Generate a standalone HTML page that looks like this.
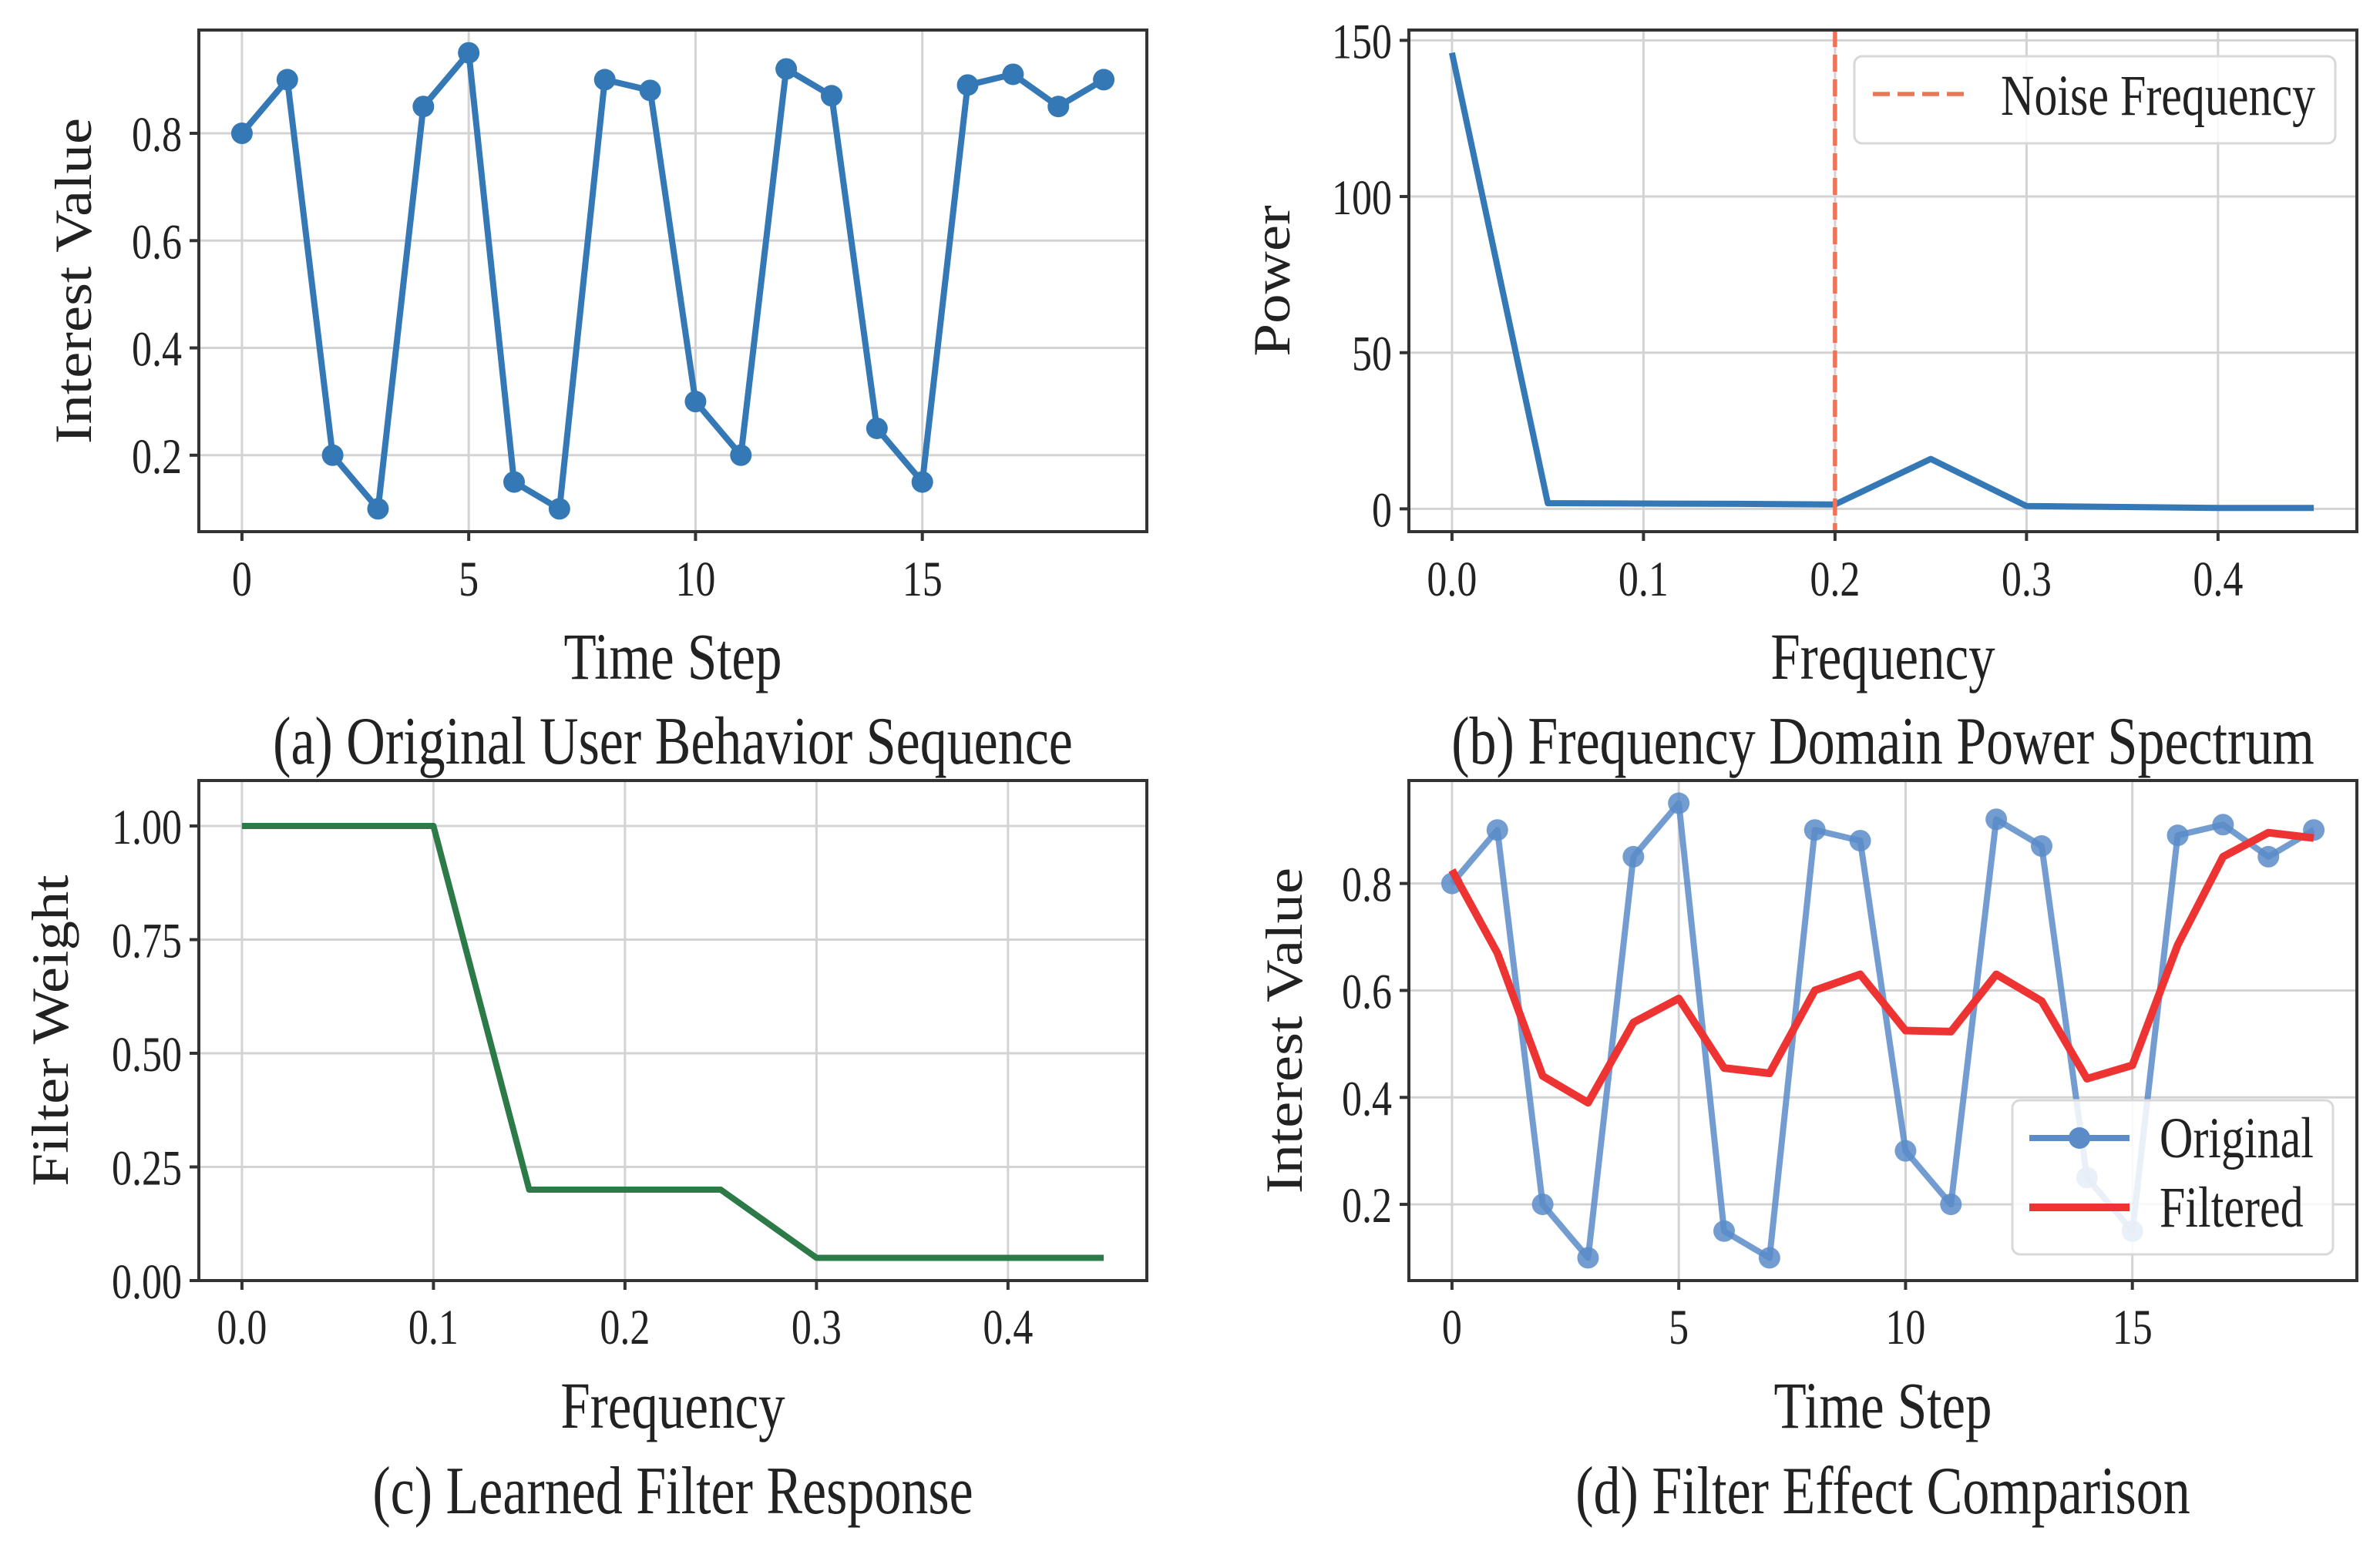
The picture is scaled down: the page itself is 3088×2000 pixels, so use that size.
<!DOCTYPE html>
<html><head><meta charset="utf-8"><style>
html,body{margin:0;padding:0;background:#fff;}
svg{display:block;}
text{font-family:"Liberation Serif","DejaVu Serif",serif;fill:#222;}
</style></head><body>
<svg id="fig" width="3088" height="2000" viewBox="0 0 3088 2000" xmlns="http://www.w3.org/2000/svg"></svg>
<script>
const timeSteps = [0,1,2,3,4,5,6,7,8,9,10,11,12,13,14,15,16,17,18,19];
const originalValues = [0.8,0.9,0.2,0.1,0.85,0.95,0.15,0.1,0.9,0.88,0.3,0.2,0.92,0.87,0.25,0.15,0.89,0.91,0.85,0.9];
const filteredValues = [0.825,0.67,0.44,0.39,0.54,0.585,0.455,0.445,0.60,0.63,0.525,0.523,0.63,0.58,0.435,0.46,0.685,0.85,0.895,0.885];
const frequencies = [0,0.05,0.1,0.15,0.2,0.25,0.3,0.35,0.4,0.45];
const powerValues = [146,1.8,1.7,1.6,1.4,16,0.9,0.6,0.3,0.3];
const filterWeights = [1,1,1,0.2,0.2,0.2,0.05,0.05,0.05,0.05];
const noiseFrequency = 0.2;
const timeTicks = [0,5,10,15];
const interestTicks = [0.2,0.4,0.6,0.8];
const freqTicks = [0,0.1,0.2,0.3,0.4];
const powerTicks = [0,50,100,150];
const weightTicks = [0,0.25,0.5,0.75,1.0];

const NS='http://www.w3.org/2000/svg';
const svg=document.getElementById('fig');
const SY=1.25;
function mk(tag,attrs,parent){const e=document.createElementNS(NS,tag);for(const k in attrs)e.setAttribute(k,attrs[k]);(parent||svg).appendChild(e);return e;}
function txt(g,x,y,str,size,anchor,name){
  const t=mk('text',{x:0,y:0,'text-anchor':anchor,'font-size':size,transform:`translate(${x},${y}) scale(1,${SY})`},g);
  t.textContent=str;
  
  
  return t;
}

function panel(o){
  const g=mk('g',{});
  
  
  const [L,T,R,B]=o.box;
  const sx=v=>L+(v-o.xlim[0])/(o.xlim[1]-o.xlim[0])*(R-L);
  const sy=v=>B-(v-o.ylim[0])/(o.ylim[1]-o.ylim[0])*(B-T);
  o.xticks.forEach(t=>{
    const l=mk('line',{x1:sx(t),x2:sx(t),y1:T,y2:B,stroke:'#d3d3d3','stroke-width':3},g);
    
    const tk=mk('line',{x1:sx(t),x2:sx(t),y1:B,y2:B+12,stroke:'#333','stroke-width':4},g);
    
    txt(g,sx(t),o.tickY,o.xfmt(t),52,'middle','x-tick-label');
  });
  o.yticks.forEach(t=>{
    const l=mk('line',{x1:L,x2:R,y1:sy(t),y2:sy(t),stroke:'#d3d3d3','stroke-width':3},g);
    
    const tk=mk('line',{x1:L-12,x2:L,y1:sy(t),y2:sy(t),stroke:'#333','stroke-width':4},g);
    
    txt(g,L-22,sy(t)+23,o.yfmt(t),52,'end','y-tick-label');
  });
  o.draw(g,sx,sy);
  const fr=mk('rect',{x:L,y:T,width:R-L,height:B-T,fill:'none',stroke:'#333','stroke-width':4},g);
  
  txt(g,(L+R)/2,o.xlabelY,o.xlabel,69,'middle','x-axis-title');
  const yl=mk('text',{x:0,y:0,'text-anchor':'middle','dominant-baseline':'central','font-size':68,transform:`translate(${o.ylabelX},${(T+B)/2}) rotate(-90) scale(1.13,1)`},g);
  yl.textContent=o.ylabel;
  txt(g,(L+R)/2,o.titleY,o.title,70,'middle','panel-caption');
}
function path(g,xs,ys,sx,sy,attrs,name){
  const d=xs.map((x,i)=>(i?'L':'M')+sx(x).toFixed(1)+' '+sy(ys[i]).toFixed(1)).join(' ');
  const p=mk('path',Object.assign({d:d,fill:'none','stroke-linejoin':'round'},attrs),g);
  
  return p;
}
function dots(g,xs,ys,sx,sy,attrs,name){
  xs.forEach((x,i)=>{const c=mk('circle',Object.assign({cx:sx(x),cy:sy(ys[i]),r:14},attrs),g);
    });
}
const f1=v=>v.toFixed(1), f0=v=>String(v), f2=v=>v.toFixed(2);

panel({name:'panel-a-original-sequence',box:[258,39,1488,690],xlim:[-0.95,19.95],ylim:[0.0575,0.9925],
  xticks:timeTicks,yticks:interestTicks,xfmt:f0,yfmt:f1,tickY:773,xlabelY:881,titleY:991,ylabelX:95,
  xlabel:'Time Step',ylabel:'Interest Value',title:'(a) Original User Behavior Sequence',
  draw:(g,sx,sy)=>{path(g,timeSteps,originalValues,sx,sy,{stroke:'#3478b5','stroke-width':8},'original-line');
    dots(g,timeSteps,originalValues,sx,sy,{fill:'#3478b5'},'original-point');}});

panel({name:'panel-b-power-spectrum',box:[1828,39,3058,690],xlim:[-0.0225,0.4725],ylim:[-7.3,153.3],
  xticks:freqTicks,yticks:powerTicks,xfmt:f1,yfmt:f0,tickY:773,xlabelY:881,titleY:991,ylabelX:1650,
  xlabel:'Frequency',ylabel:'Power',title:'(b) Frequency Domain Power Spectrum',
  draw:(g,sx,sy)=>{
    path(g,frequencies,powerValues,sx,sy,{stroke:'#3478b5','stroke-width':8},'power-line');
    const nl=mk('line',{x1:sx(noiseFrequency),x2:sx(noiseFrequency),y1:39,y2:690,stroke:'#f07357','stroke-width':5.5,'stroke-dasharray':'22 10'},g);
    
    const lg=mk('g',{},g);
    mk('rect',{x:2406,y:73,width:624,height:113,rx:10,fill:'#fff','fill-opacity':0.85,stroke:'#d8d8d8','stroke-width':3},lg);
    const s=mk('line',{x1:2430,x2:2554,y1:122,y2:122,stroke:'#f07357','stroke-width':5.5,'stroke-dasharray':'22 10'},lg);
    
    txt(lg,2596,149,'Noise Frequency',60,'start','legend-label');
  }});

panel({name:'panel-c-filter-response',box:[258,1013,1488,1662],xlim:[-0.0225,0.4725],ylim:[0,1.1],
  xticks:freqTicks,yticks:weightTicks,xfmt:f1,yfmt:f2,tickY:1744,xlabelY:1853,titleY:1964,ylabelX:65,
  xlabel:'Frequency',ylabel:'Filter Weight',title:'(c) Learned Filter Response',
  draw:(g,sx,sy)=>{path(g,frequencies,filterWeights,sx,sy,{stroke:'#2b7a48','stroke-width':8},'filter-line');}});

panel({name:'panel-d-filter-comparison',box:[1828,1013,3058,1662],xlim:[-0.95,19.95],ylim:[0.0575,0.9925],
  xticks:timeTicks,yticks:interestTicks,xfmt:f0,yfmt:f1,tickY:1744,xlabelY:1853,titleY:1964,ylabelX:1666,
  xlabel:'Time Step',ylabel:'Interest Value',title:'(d) Filter Effect Comparison',
  draw:(g,sx,sy)=>{
    path(g,timeSteps,originalValues,sx,sy,{stroke:'#5b8cc8','stroke-width':8,'stroke-opacity':0.85},'original-line');
    dots(g,timeSteps,originalValues,sx,sy,{fill:'#5b8cc8','fill-opacity':0.85},'original-point');
    path(g,timeSteps,filteredValues,sx,sy,{stroke:'#ee3333','stroke-width':10},'filtered-line');
    const lg=mk('g',{},g);
    mk('rect',{x:2611,y:1428,width:416,height:200,rx:10,fill:'#fff','fill-opacity':0.85,stroke:'#d8d8d8','stroke-width':3},lg);
    const s1=mk('line',{x1:2633,x2:2763,y1:1477,y2:1477,stroke:'#5b8cc8','stroke-width':8},lg);
    
    const c=mk('circle',{cx:2698,cy:1477,r:14,fill:'#5b8cc8'},lg);
    
    txt(lg,2802,1502,'Original',60,'start','legend-label-original');
    const s2=mk('line',{x1:2633,x2:2763,y1:1567,y2:1567,stroke:'#ee3333','stroke-width':10},lg);
    
    txt(lg,2802,1592,'Filtered',60,'start','legend-label-filtered');
  }});
</script>
</body></html>
